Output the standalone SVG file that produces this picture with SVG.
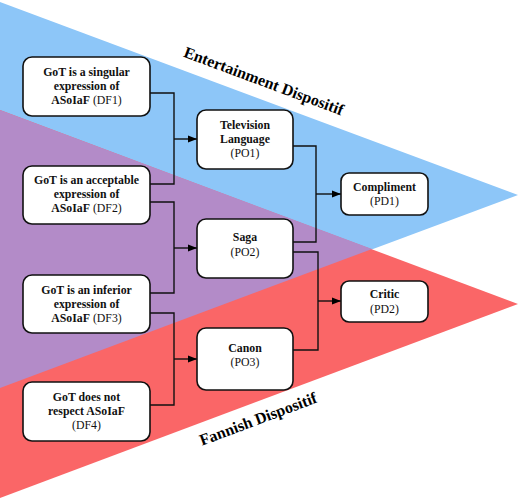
<svg xmlns="http://www.w3.org/2000/svg" width="520" height="500" viewBox="0 0 520 500">
<defs>
<marker id="ah" viewBox="0 0 10 10" refX="10" refY="5" markerWidth="9" markerHeight="9" markerUnits="userSpaceOnUse" orient="auto">
<path d="M0,1 L10,5 L0,9 Z" fill="#000"/>
</marker>
<style>
.box{fill:#fff;stroke:#111;stroke-width:1.6}
.t{font-size:11.8px;text-anchor:middle;fill:#111}
.b{font-weight:bold}
.lbl{font-size:16px;font-weight:bold;fill:#000;text-anchor:middle}
.c{fill:none;stroke:#111;stroke-width:1.4}
</style>
</defs>
<rect width="520" height="500" fill="#fff"/>
<g id="backgrounds">
<polygon points="0,2 518,195 0,388" fill="#8DC6F8"/>
<polygon points="0,110 518,304 0,498" fill="#FA6667"/>
<polygon points="0,110 372,249 0,388" fill="#B38BC8"/>
</g>
<text class="lbl" font-family="Liberation Serif" transform="translate(262,86) rotate(20.4)">Entertainment Dispositif</text>
<text class="lbl" font-family="Liberation Serif" transform="translate(260,424) rotate(-20.6)">Fannish Dispositif</text>
<g id="connectors">
<polyline class="c" points="150,93 174,93 174,184 150,184"/>
<line class="c" x1="174" y1="139" x2="197" y2="139" marker-end="url(#ah)"/>
<polyline class="c" points="150,202 174,202 174,293 150,293"/>
<line class="c" x1="174" y1="248" x2="197" y2="248" marker-end="url(#ah)"/>
<polyline class="c" points="150,313 174,313 174,405 150,405"/>
<line class="c" x1="174" y1="359" x2="197" y2="359" marker-end="url(#ah)"/>
<polyline class="c" points="293,146 316,146 316,242 293,242"/>
<line class="c" x1="316" y1="194" x2="341" y2="194" marker-end="url(#ah)"/>
<polyline class="c" points="293,252 318,252 318,350 293,350"/>
<line class="c" x1="318" y1="301" x2="341" y2="301" marker-end="url(#ah)"/>
</g>
<g id="DF1"><rect class="box" x="23" y="57" width="127" height="59" rx="9"/>
<text x="86.5" y="76" class="t b" font-family="Liberation Serif">GoT is a singular</text><text x="86.5" y="90" class="t b" font-family="Liberation Serif">expression of</text><text x="86.5" y="104" class="t" font-family="Liberation Serif"><tspan class="b">ASoIaF</tspan> (DF1)</text></g>
<g id="DF2"><rect class="box" x="23" y="166" width="127" height="58" rx="9"/>
<text x="86.5" y="184" class="t b" font-family="Liberation Serif">GoT is an acceptable</text><text x="86.5" y="198" class="t b" font-family="Liberation Serif">expression of</text><text x="86.5" y="212" class="t" font-family="Liberation Serif"><tspan class="b">ASoIaF</tspan> (DF2)</text></g>
<g id="DF3"><rect class="box" x="23" y="275" width="127" height="58" rx="9"/>
<text x="86.5" y="294" class="t b" font-family="Liberation Serif">GoT is an inferior</text><text x="86.5" y="308" class="t b" font-family="Liberation Serif">expression of</text><text x="86.5" y="322" class="t" font-family="Liberation Serif"><tspan class="b">ASoIaF</tspan> (DF3)</text></g>
<g id="DF4"><rect class="box" x="23" y="382" width="127" height="59" rx="9"/>
<text x="86.5" y="401" class="t b" font-family="Liberation Serif">GoT does not</text><text x="86.5" y="415" class="t b" font-family="Liberation Serif">respect ASoIaF</text><text x="86.5" y="429" class="t" font-family="Liberation Serif">(DF4)</text></g>
<g id="PO1"><rect class="box" x="197" y="110" width="96" height="59" rx="9"/>
<text x="245" y="129" class="t b" font-family="Liberation Serif">Television</text><text x="245" y="143" class="t b" font-family="Liberation Serif">Language</text><text x="245" y="157" class="t" font-family="Liberation Serif">(PO1)</text></g>
<g id="PO2"><rect class="box" x="197" y="219" width="96" height="59" rx="9"/>
<text x="245" y="241" class="t b" font-family="Liberation Serif">Saga</text><text x="245" y="256" class="t" font-family="Liberation Serif">(PO2)</text></g>
<g id="PO3"><rect class="box" x="197" y="328" width="96" height="62" rx="9"/>
<text x="245" y="352" class="t b" font-family="Liberation Serif">Canon</text><text x="245" y="366" class="t" font-family="Liberation Serif">(PO3)</text></g>
<g id="PD1"><rect class="box" x="341" y="173" width="87" height="42" rx="8"/>
<text x="384.5" y="191" class="t b" font-family="Liberation Serif">Compliment</text><text x="384.5" y="205" class="t" font-family="Liberation Serif">(PD1)</text></g>
<g id="PD2"><rect class="box" x="341" y="281" width="87" height="41" rx="8"/>
<text x="384.5" y="298" class="t b" font-family="Liberation Serif">Critic</text><text x="384.5" y="313" class="t" font-family="Liberation Serif">(PD2)</text></g>
</svg>
